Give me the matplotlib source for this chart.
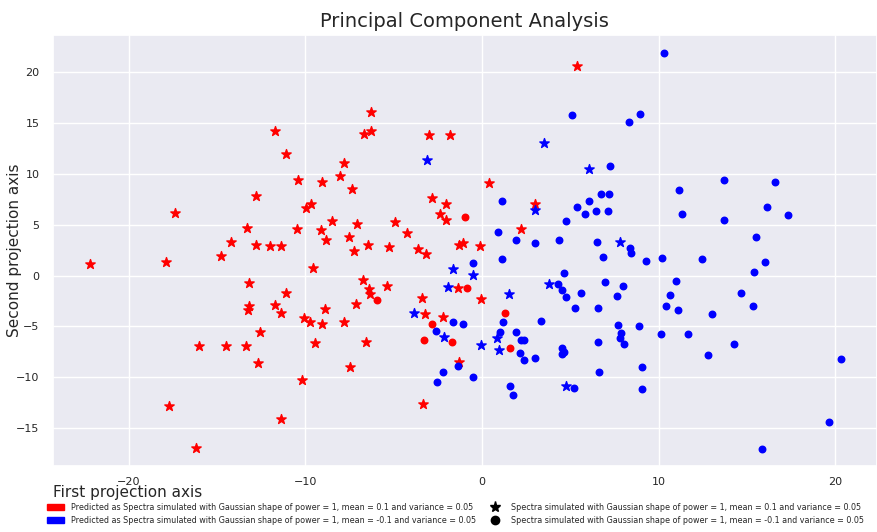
import matplotlib.pyplot as plt
import seaborn as sns
from matplotlib.patches import Patch
from matplotlib.lines import Line2D

# predicted mean = 0.1, true mean = 0.1 (red stars)
red_star_x = [-6.29, -11.7, -6.66, -6.29, -3.02, -1.80, -11.1, -10.4, -9.04, -8.04, -7.81, 5.36, 0.41,
              -12.8, -17.4, -13.3, -14.2, -12.8, -14.8, -17.9, -22.2, -13.2, -13.2, -13.25,
              -7.36, -9.97, -9.67, -8.49, -7.08, -4.93, -2.83, -2.02, -2.38, -2.02,
              -10.46, -9.12, -8.83, -7.55, -4.27, -12.0, -11.4, -7.25, -6.44, -5.29, -3.62, -3.15,
              -1.29, -1.1, -9.59, -6.74, -6.40, -6.36, -5.40, -1.34, -11.1, -11.7, -11.4, -8.89, -7.12,
              -3.42, -3.23, -10.1, -9.72, -9.08, -7.81, -2.19, 2.98, 2.21, -0.13, -0.06,
              -12.59, -16.0, -14.48, -13.36, -12.7, -17.7, -16.2, -9.46, -6.57, -7.46, -10.19, -11.36,
              -1.32, -3.34]
red_star_y = [16.1, 14.2, 13.9, 14.2, 13.8, 13.8, 11.9, 9.4, 9.2, 9.8, 11.0, 20.6, 9.1,
              7.8, 6.1, 4.7, 3.3, 3.0, 1.9, 1.3, 1.1, -0.75, -3.0, -3.4,
              8.5, 6.6, 7.0, 5.4, 5.1, 5.3, 7.6, 7.0, 6.0, 5.5,
              4.6, 4.5, 3.5, 3.8, 4.2, 2.9, 2.85, 2.4, 3.0, 2.8, 2.6, 2.1,
              3.0, 3.2, 0.7, -0.4, -1.35, -1.8, -1.0, -1.25, -1.7, -2.85, -3.7, -3.25, -2.8,
              -2.2, -3.8, -4.2, -4.6, -4.8, -4.55, -4.1, 7.05, 4.6, 2.9, -2.33,
              -5.5, -6.9, -6.95, -6.95, -8.6, -12.85, -16.9, -6.6, -6.5, -8.98, -10.26, -14.1,
              -8.5, -12.6]

# predicted mean = 0.1, true mean = -0.1 (red circles)
red_dot_x = [-5.95, -2.83, -0.98, -0.87, 1.32, -3.27, -1.70, 1.58]
red_dot_y = [-2.36, -4.75, 5.7, -1.18, -3.67, -6.33, -6.5, -7.08]

# predicted mean = -0.1, true mean = 0.1 (blue stars)
blue_star_x = [-3.11, 3.49, 6.08, -1.66, -1.91, -3.83, 3.02, 7.83, -0.53, 3.77, 1.51,
               -2.15, 0.87, -0.04, 0.98, 4.75]
blue_star_y = [11.3, 13.0, 10.5, 0.6, -1.15, -3.7, 6.4, 3.3, 0.07, -0.85, -1.84,
               -6.03, -6.16, -6.8, -7.3, -10.8]

# predicted mean = -0.1, true mean = -0.1 (blue circles)
blue_dot_x = [10.3, 5.10, 8.32, 8.95, 7.25, 13.7, 16.6,
              -1.66, -1.06, -2.59,
              1.13, 6.72, 7.19, 6.08, 5.38, 5.81, 6.45, 7.10, 4.74, 0.89, 1.9, 3.0, 4.34, 6.49,
              8.40, 8.41, 6.83, 9.29, 10.17, -0.53, 1.13, 4.62, 4.30, 4.51, 4.73, 5.59, 6.93,
              7.96, 7.66, 10.64, 10.42, 5.28, 6.57, 1.21, 3.32, 7.68, 8.89,
              11.17, 11.34, 13.68, 16.14, 17.29, 15.51, 12.47, 16.04, 15.38, 10.95, 11.08,
              14.63, 15.35, 13.04,
              -1.34, -2.23, -2.53,
              1.02, 1.9, 2.2, 2.35, 2.15, 2.36, 3.02, -0.49, 1.6, 1.75, 4.55, 4.53, 4.62, 5.19,
              6.57, 6.64, 7.87, 7.83, 8.06, 9.04, 9.08, 10.1,
              11.66, 14.27, 12.76, 20.29, 19.63, 15.83]
blue_dot_y = [21.8, 15.8, 15.1, 15.9, 10.8, 9.4, 9.2,
              -4.6, -4.75, -5.4,
              7.3, 7.96, 7.96, 7.3, 6.7, 6.03, 6.3, 6.3, 5.4, 4.3, 3.5, 3.2, 3.5, 3.3,
              2.7, 2.2, 1.8, 1.4, 1.7, 1.2, 1.67, 0.2, -0.8, -1.4, -2.07, -1.67, -0.66,
              -1.05, -1.97, -1.9, -2.95, -3.15, -3.15, -4.55, -4.49, -4.85, -5.0,
              8.4, 6.07, 5.5, 6.75, 5.9, 3.83, 1.6, 1.35, 0.36, -0.49, -3.34,
              -1.74, -2.95, -3.74,
              -8.85, -9.44, -10.49,
              -5.57, -5.54, -6.3, -6.3, -7.6, -8.3, -8.06, -10.0, -10.8, -11.7, -7.14, -7.7, -7.54, -11.04,
              -6.5, -9.44, -5.64, -6.13, -6.72, -9.0, -11.1, -5.7,
              -5.7, -6.69, -7.77, -8.2, -14.4, -16.98]

labels = ["Predicted as Spectra simulated with Gaussian shape of power = 1, mean = 0.1 and variance = 0.05",
          "Predicted as Spectra simulated with Gaussian shape of power = 1, mean = -0.1 and variance = 0.05",
          "Spectra simulated with Gaussian shape of power = 1, mean = 0.1 and variance = 0.05",
          "Spectra simulated with Gaussian shape of power = 1, mean = -0.1 and variance = 0.05"]

sns.set_theme(style="darkgrid")

fig = plt.figure(figsize=(8.77, 5.32), dpi=100)
ax = fig.add_axes([0.06, 0.124, 0.94, 0.81])

ax.scatter(red_star_x, red_star_y, c="red", marker="*", s=50)
ax.scatter(red_dot_x, red_dot_y, c="red", marker="o", s=22)
ax.scatter(blue_star_x, blue_star_y, c="blue", marker="*", s=50)
ax.scatter(blue_dot_x, blue_dot_y, c="blue", marker="o", s=22)

ax.set_xlim(-24.3, 22.35)
ax.set_ylim(-18.7, 23.6)
ax.tick_params(labelsize=8)
ax.tick_params(axis="x", pad=2)
ax.set_title("Principal Component Analysis", fontsize=14)
ax.set_ylabel("Second projection axis", fontsize=11)
ax.yaxis.set_label_coords(-0.037, 0.5)
fig.text(0.06, 0.065, "First projection axis", fontsize=11)

handles = [Patch(color="red"), Patch(color="blue"),
           Line2D([], [], color="black", marker="*", linestyle="", markersize=8),
           Line2D([], [], color="black", marker="o", linestyle="", markersize=6)]
fig.legend(handles, labels, loc="lower left", bbox_to_anchor=(0.045, 0.0), ncol=2,
           fontsize=5.8, frameon=False, columnspacing=1.3, handlelength=2.2)

plt.savefig("out.png", dpi=100)
